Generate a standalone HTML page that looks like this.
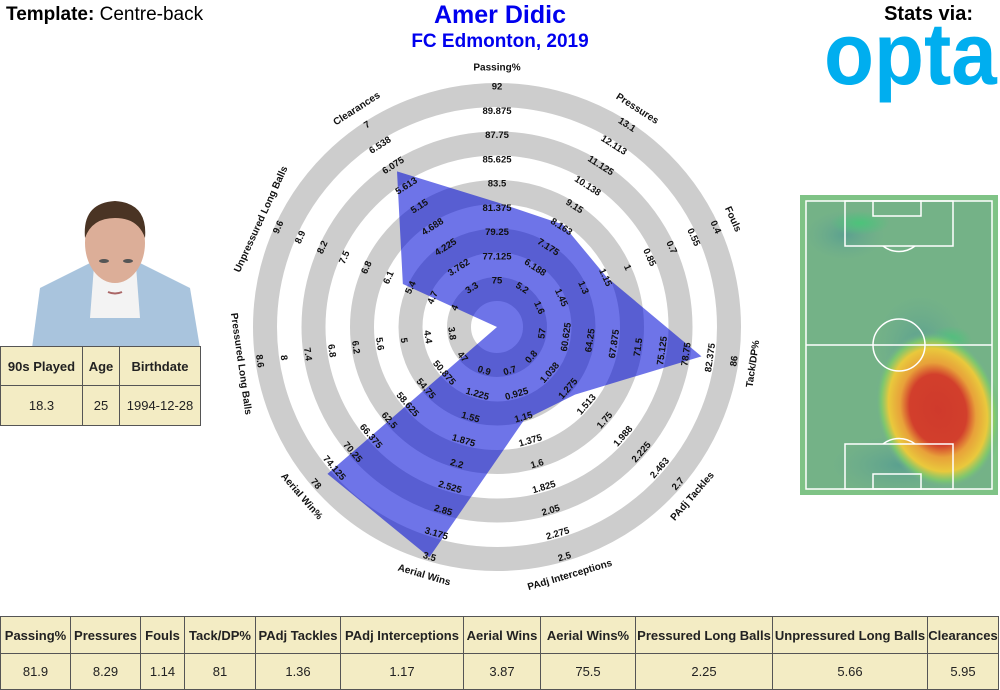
<!DOCTYPE html>
<html><head><meta charset="utf-8"><style>
body{margin:0;width:1000px;height:690px;background:#fff;font-family:"Liberation Sans",Arial,sans-serif;position:relative;overflow:hidden}
.abs{position:absolute}
table{border-collapse:collapse;background:#f3ecc4;font-size:13px;color:#222}
td{border:1.5px solid #555;text-align:center;padding:0}
th{border:1.5px solid #555;font-weight:bold;padding:0}
</style></head><body>
<div class="abs" style="left:6px;top:4px;font-size:19px"><b>Template:</b> Centre-back</div>
<div class="abs" style="left:300px;width:400px;top:1px;text-align:center;color:#0000ee;font-weight:bold;font-size:25px">Amer Didic</div>
<div class="abs" style="left:300px;width:400px;top:31px;text-align:center;color:#0000ee;font-weight:bold;font-size:19px">FC Edmonton, 2019</div>
<div class="abs" style="right:27px;top:3px;font-weight:bold;font-size:20px">Stats via:</div>
<div class="abs" style="left:824px;top:10px;line-height:1;font-weight:bold;font-size:88px;color:#00aeef;transform:scaleX(0.93);transform-origin:left top;letter-spacing:0px">opta</div>

<svg class="abs" style="left:30px;top:198px" width="170" height="150">
<path d="M2 150 L10 90 Q40 75 70 60 L100 60 Q130 75 160 90 L170 150Z" fill="#a9c4dd"/>
<path d="M60 120 L65 55 L105 55 L110 120Z" fill="#f3f3f3"/>
<ellipse cx="85" cy="45" rx="30" ry="40" fill="#dcae98"/>
<path d="M55 40 Q52 5 85 3 Q118 5 115 40 Q108 20 85 20 Q62 20 55 40Z" fill="#4a3424"/>
<ellipse cx="74" cy="63" rx="5" ry="2" fill="#555"/><ellipse cx="98" cy="63" rx="5" ry="2" fill="#555"/>
<path d="M78 94 Q85 97 92 94" stroke="#a66" stroke-width="2" fill="none"/>
</svg>

<table class="abs" style="left:0;top:346px;width:201px;height:80px">
<tr style="height:39px"><th style="width:81px">90s Played</th><th style="width:36px">Age</th><th>Birthdate</th></tr>
<tr><td>18.3</td><td>25</td><td>1994-12-28</td></tr>
</table>

<svg class="abs" style="left:800px;top:195px" width="198" height="300">
<defs>
<radialGradient id="hot" cx="0.5" cy="0.5" r="0.5">
<stop offset="0" stop-color="#cf3a2c"/><stop offset="0.45" stop-color="#d23f2c"/><stop offset="0.6" stop-color="#e8a13a"/><stop offset="0.78" stop-color="#e9c93c"/><stop offset="0.9" stop-color="#7ecb6a" stop-opacity="0.8"/><stop offset="1" stop-color="#6fa79a" stop-opacity="0"/></radialGradient>
<radialGradient id="cool" cx="0.5" cy="0.5" r="0.5"><stop offset="0" stop-color="#5aa08f"/><stop offset="1" stop-color="#6aa98f" stop-opacity="0"/></radialGradient>
<radialGradient id="grn" cx="0.5" cy="0.5" r="0.5"><stop offset="0" stop-color="#4cc37a"/><stop offset="1" stop-color="#4cc37a" stop-opacity="0"/></radialGradient>
</defs>
<rect width="198" height="300" fill="#7fc386"/>
<rect x="6" y="6" width="186" height="288" fill="#74b287"/>
<ellipse cx="45" cy="40" rx="40" ry="25" fill="url(#cool)"/>
<ellipse cx="120" cy="150" rx="45" ry="50" fill="url(#cool)"/>
<ellipse cx="100" cy="270" rx="70" ry="30" fill="url(#cool)"/>
<ellipse cx="60" cy="28" rx="30" ry="12" fill="url(#grn)"/>
<ellipse cx="150" cy="145" rx="22" ry="14" fill="url(#grn)"/>
<ellipse cx="138" cy="215" rx="62" ry="80" fill="url(#hot)" transform="rotate(-15 138 215)"/>
<g fill="none" stroke="#fff" stroke-width="1.5">
<rect x="6" y="6" width="186" height="288"/>
<line x1="6" y1="150" x2="192" y2="150"/>
<circle cx="99" cy="150" r="26"/>
<rect x="45" y="6" width="108" height="45"/><rect x="73" y="6" width="48" height="15"/>
<rect x="45" y="249" width="108" height="45"/><rect x="73" y="279" width="48" height="15"/>
<path d="M83 51 A26 26 0 0 0 115 51"/><path d="M83 249 A26 26 0 0 1 115 249"/>
</g></svg>

<svg class="abs" style="left:0;top:0" width="1000" height="610" id="radar"></svg>

<table class="abs" style="left:0;top:616px;width:999px;height:74px">
<tr style="height:37px"><th style="width:69px">Passing%</th><th style="width:69px">Pressures</th><th style="width:43px">Fouls</th><th style="width:70px">Tack/DP%</th><th style="width:84px">PAdj Tackles</th><th style="width:122px">PAdj Interceptions</th><th style="width:76px">Aerial Wins</th><th style="width:94px">Aerial Wins%</th><th style="width:136px">Pressured Long Balls</th><th style="width:154px">Unpressured Long Balls</th><th>Clearances</th></tr>
<tr><td>81.9</td><td>8.29</td><td>1.14</td><td>81</td><td>1.36</td><td>1.17</td><td>3.87</td><td>75.5</td><td>2.25</td><td>5.66</td><td>5.95</td></tr>
</table>

<script>
const categories=["Passing%","Pressures","Fouls","Tack/DP%","PAdj Tackles","PAdj Interceptions","Aerial Wins","Aerial Win%","Pressured Long Balls","Unpressured Long Balls","Clearances"];
const values=[81.9,8.29,1.14,81,1.36,1.17,3.87,75.5,2.25,5.66,5.95];
const rangeMin=[75,5.2,1.6,57,0.8,0.7,0.9,47,3.8,4,3.3];
const rangeMax=[92,13.1,0.4,86,2.7,2.5,3.5,78,8.6,9.6,7];
const tickLabels=[
["75","77.125","79.25","81.375","83.5","85.625","87.75","89.875","92"],
["5.2","6.188","7.175","8.163","9.15","10.138","11.125","12.113","13.1"],
["1.6","1.45","1.3","1.15","1","0.85","0.7","0.55","0.4"],
["57","60.625","64.25","67.875","71.5","75.125","78.75","82.375","86"],
["0.8","1.038","1.275","1.513","1.75","1.988","2.225","2.463","2.7"],
["0.7","0.925","1.15","1.375","1.6","1.825","2.05","2.275","2.5"],
["0.9","1.225","1.55","1.875","2.2","2.525","2.85","3.175","3.5"],
["47","50.875","54.75","58.625","62.5","66.375","70.25","74.125","78"],
["3.8","4.4","5","5.6","6.2","6.8","7.4","8","8.6"],
["4","4.7","5.4","6.1","6.8","7.5","8.2","8.9","9.6"],
["3.3","3.762","4.225","4.688","5.15","5.613","6.075","6.538","7"]];
const svg=document.getElementById('radar');const NS="http://www.w3.org/2000/svg";
const CX=497,CY=327,R0=46,R1=240,STEP=(R1-R0)/8;
function rad(i,v){let t=(v-rangeMin[i])/(rangeMax[i]-rangeMin[i]);t=Math.min(1,t);let r=R0+t*(R1-R0);return Math.max(0,r);}
function ang(i){return i*2*Math.PI/categories.length;}
function pt(i,r){const a=ang(i);return [CX+r*Math.sin(a),CY-r*Math.cos(a)];}
function rot(i){let d=i*360/categories.length;return (d>90&&d<270)?d-180:d;}
for(let k=8;k>=0;k-=2){
 const rOut=R0+k*STEP+4,rIn=R0+k*STEP-20;
 const c=document.createElementNS(NS,'circle');
 
 
 c.setAttribute('cx',CX);c.setAttribute('cy',CY);c.setAttribute('r',(rOut+rIn)/2);
 c.setAttribute('fill','none');c.setAttribute('stroke','#cdcdcd');c.setAttribute('stroke-width',rOut-rIn);
 svg.appendChild(c);
}
const poly=document.createElementNS(NS,'polygon');


poly.setAttribute('points',values.map((v,i)=>pt(i,rad(i,v)).join(',')).join(' '));
poly.setAttribute('fill','rgb(0,10,215)');poly.setAttribute('fill-opacity','0.57');
svg.appendChild(poly);
categories.forEach((c,i)=>{
 tickLabels[i].forEach((lab,k)=>{
  const [x,y]=pt(i,R0+k*STEP);
  const t=document.createElementNS(NS,'text');
  
  
  t.setAttribute('x',x);t.setAttribute('y',y);t.setAttribute('text-anchor','middle');t.setAttribute('dominant-baseline','central');
  t.setAttribute('font-size','9.5');t.setAttribute('font-weight','bold');t.setAttribute('fill','#111');
  t.setAttribute('transform',`rotate(${rot(i)} ${x} ${y})`);t.textContent=lab;svg.appendChild(t);
 });
 const [x,y]=pt(i,259);
 const t=document.createElementNS(NS,'text');
 
 
 t.setAttribute('x',x);t.setAttribute('y',y);t.setAttribute('text-anchor','middle');t.setAttribute('dominant-baseline','central');
 t.setAttribute('font-size','10');t.setAttribute('font-weight','bold');t.setAttribute('fill','#111');
 t.setAttribute('transform',`rotate(${rot(i)} ${x} ${y})`);t.textContent=c;svg.appendChild(t);
});
</script>
</body></html>
